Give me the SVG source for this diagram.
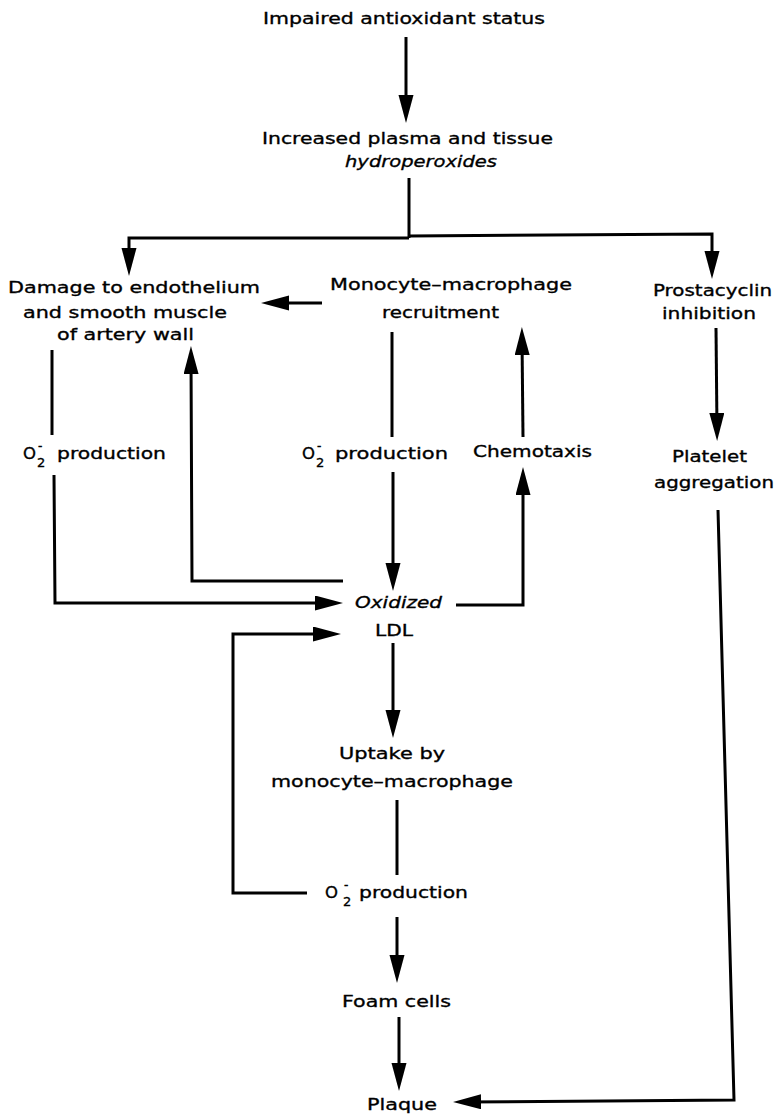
<svg xmlns="http://www.w3.org/2000/svg" width="779" height="1116" viewBox="0 0 779 1116">
<style>
text{font-family:"DejaVu Sans","Liberation Sans",sans-serif;font-size:16.5px;fill:#000;stroke:#000;stroke-width:0.35px;}
.it{font-style:italic;}
.sub{font-size:13px;}
.sup{font-size:12px;}
.ln{fill:none;stroke:#000;stroke-width:3;stroke-linejoin:miter;stroke-linecap:butt;}
.ar{marker-end:url(#ah);}
</style>
<defs>
<marker id="ah" markerUnits="userSpaceOnUse" markerWidth="30" markerHeight="16" refX="17" refY="7.5" orient="auto">
<path d="M0,0 L28,7.5 L0,15 Z" fill="#000"/>
</marker>
</defs>
<rect width="779" height="1116" fill="#fff"/>
<g id="connectors">
<path class="ln ar" d="M406,37 L406,112"/>
<path class="ln" d="M409,178 L409,238"/>
<path class="ln ar" d="M409,238 L129,238 L129,265"/>
<path class="ln ar" d="M409,236 L712,234 L712,268"/>
<path class="ln ar" d="M322,303 L272,303"/>
<path class="ln" d="M52,350 L52,435"/>
<path class="ln ar" d="M54,475 L55,603 L332,603"/>
<path class="ln ar" d="M343,581 L192,581 L191,357"/>
<path class="ln" d="M392,332 L392,437"/>
<path class="ln ar" d="M393,472 L393,580"/>
<path class="ln ar" d="M456,605 L523,605 L523,478"/>
<path class="ln ar" d="M523,437 L522,338"/>
<path class="ln ar" d="M716,328 L717,430"/>
<path class="ln ar" d="M718,510 L734,1100 L464,1102"/>
<path class="ln ar" d="M307,893 L233,893 L233,634 L330,634"/>
<path class="ln ar" d="M393,643 L393,727"/>
<path class="ln" d="M397,800 L397,875"/>
<path class="ln ar" d="M397,917 L397,972"/>
<path class="ln ar" d="M399,1017 L399,1080"/>
</g>
<g id="impaired"><text x="263" y="24" textLength="282" lengthAdjust="spacingAndGlyphs">Impaired antioxidant status</text></g>
<g id="hydroperoxides">
<text x="262" y="144" textLength="291" lengthAdjust="spacingAndGlyphs">Increased plasma and tissue</text>
<text class="it" x="345" y="167" textLength="152" lengthAdjust="spacingAndGlyphs">hydroperoxides</text>
</g>
<g id="damage">
<text x="8" y="293" textLength="252" lengthAdjust="spacingAndGlyphs">Damage to endothelium</text>
<text x="23" y="318" textLength="204" lengthAdjust="spacingAndGlyphs">and smooth muscle</text>
<text x="57" y="340" textLength="137" lengthAdjust="spacingAndGlyphs">of artery wall</text>
</g>
<g id="monocyte">
<text x="330" y="290" textLength="242" lengthAdjust="spacingAndGlyphs">Monocyte–macrophage</text>
<text x="382" y="318" textLength="117" lengthAdjust="spacingAndGlyphs">recruitment</text>
</g>
<g id="prostacyclin">
<text x="653" y="296" textLength="119" lengthAdjust="spacingAndGlyphs">Prostacyclin</text>
<text x="662" y="319" textLength="94" lengthAdjust="spacingAndGlyphs">inhibition</text>
</g>
<g id="o2-left">
<text x="23" y="459">O</text>
<text class="sub" x="37" y="467">2</text>
<text class="sup" x="38" y="450">-</text>
<text x="57" y="459" textLength="109" lengthAdjust="spacingAndGlyphs">production</text>
</g>
<g id="o2-center">
<text x="302" y="459">O</text>
<text class="sub" x="316" y="467">2</text>
<text class="sup" x="317" y="450">-</text>
<text x="335" y="459" textLength="113" lengthAdjust="spacingAndGlyphs">production</text>
</g>
<g id="chemotaxis"><text x="473" y="457" textLength="119" lengthAdjust="spacingAndGlyphs">Chemotaxis</text></g>
<g id="platelet">
<text x="672" y="462" textLength="75" lengthAdjust="spacingAndGlyphs">Platelet</text>
<text x="654" y="488" textLength="120" lengthAdjust="spacingAndGlyphs">aggregation</text>
</g>
<g id="oxidized-ldl">
<text class="it" x="355" y="608" textLength="87" lengthAdjust="spacingAndGlyphs">Oxidized</text>
<text x="375" y="636" textLength="38" lengthAdjust="spacingAndGlyphs">LDL</text>
</g>
<g id="uptake">
<text x="339" y="759" textLength="106" lengthAdjust="spacingAndGlyphs">Uptake by</text>
<text x="271" y="787" textLength="242" lengthAdjust="spacingAndGlyphs">monocyte–macrophage</text>
</g>
<g id="o2-bottom">
<text x="325" y="898">O</text>
<text class="sub" x="343" y="906">2</text>
<text class="sup" x="344" y="889">-</text>
<text x="359" y="898" textLength="109" lengthAdjust="spacingAndGlyphs">production</text>
</g>
<g id="foam"><text x="342" y="1007" textLength="109" lengthAdjust="spacingAndGlyphs">Foam cells</text></g>
<g id="plaque"><text x="367" y="1110" textLength="70" lengthAdjust="spacingAndGlyphs">Plaque</text></g>
</svg>
